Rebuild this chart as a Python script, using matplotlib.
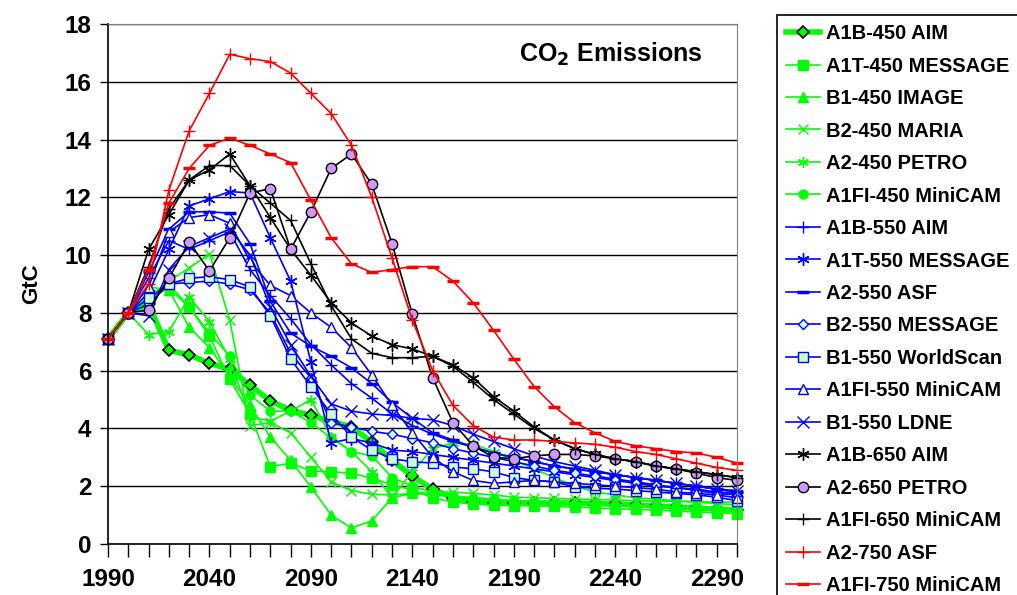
import numpy as np
import matplotlib
matplotlib.use('Agg')
import matplotlib.pyplot as plt

plt.rcParams['font.family'] = ['Liberation Sans', 'DejaVu Sans']
plt.rcParams['font.weight'] = 'bold'

years = list(range(1990, 2301, 10))

# green: 450 ppm
a1b_450_aim = [7.1, 8.0, 8.3, 6.7, 6.55, 6.25, 6.05, 5.5, 4.95, 4.63, 4.45, 4.25, 4.05, 3.53, 2.9, 2.35,
               1.9, 1.6, 1.47, 1.42, 1.42, 1.42, 1.42, 1.42, 1.4, 1.38, 1.35, 1.32, 1.28, 1.25, 1.2, 1.17]
a1t_450_message = [7.1, 8.0, 8.6, 9.0, 8.2, 7.2, 5.7, 4.5, 2.67, 2.8, 2.53, 2.5, 2.45, 2.28, 2.05, 1.87,
                   1.6, 1.45, 1.38, 1.35, 1.33, 1.32, 1.3, 1.28, 1.25, 1.22, 1.2, 1.17, 1.14, 1.11, 1.08, 1.05]
b1_450_image = [7.1, 8.0, 8.9, 8.8, 7.5, 6.8, 5.8, 4.8, 3.7, 2.9, 1.97, 1.0, 0.55, 0.8, 1.6, 1.75,
                1.7, 1.65, 1.6, 1.55, 1.5, 1.48, 1.45, 1.42, 1.4, 1.37, 1.34, 1.3, 1.27, 1.23, 1.2, 1.15]
b2_450_maria = [7.1, 8.0, 8.4, 9.1, 9.55, 10.05, 7.75, 4.1, 4.2, 3.85, 3.0, 2.15, 1.85, 1.72, 1.7, 1.75,
                1.8, 1.8, 1.75, 1.7, 1.62, 1.6, 1.58, 1.56, 1.54, 1.52, 1.5, 1.48, 1.47, 1.46, 1.45, 1.45]
a2_450_petro = [7.1, 8.0, 7.25, 7.35, 8.55, 7.7, 6.4, 4.4, 4.25, 4.6, 5.0, 3.7, 3.2, 2.5, 1.6, 2.5,
                3.3, 3.5, 3.45, 3.2, 2.9, 2.6, 2.3, 2.0, 1.8, 1.7, 1.6, 1.55, 1.5, 1.45, 1.4, 1.35]
a1fi_450_minicam = [7.1, 8.0, 8.5, 8.85, 8.2, 7.3, 6.5, 5.15, 4.6, 4.6, 4.2, 3.67, 3.2, 3.05, 2.3, 2.0,
                    1.8, 1.65, 1.6, 1.55, 1.5, 1.45, 1.42, 1.4, 1.38, 1.35, 1.33, 1.3, 1.28, 1.25, 1.22, 1.2]

# blue: 550 ppm
a1b_550_aim = [7.1, 8.0, 9.2, 10.5, 10.2, 10.5, 10.8, 9.5, 8.6, 7.8, 6.9, 6.2, 5.55, 5.05, 4.5, 4.1,
               3.8, 3.55, 3.35, 3.15, 3.0, 2.85, 2.7, 2.6, 2.5, 2.4, 2.3, 2.2, 2.1, 2.0, 1.9, 1.8]
a1t_550_message = [7.1, 8.0, 8.7, 10.2, 11.7, 11.95, 12.2, 12.15, 10.6, 9.1, 6.3, 3.5, 3.65, 3.5, 3.25, 3.2,
                   3.1, 3.0, 2.9, 2.8, 2.7, 2.6, 2.5, 2.4, 2.3, 2.2, 2.1, 2.0, 1.95, 1.9, 1.8, 1.75]
a2_550_asf = [7.1, 8.0, 9.4, 10.9, 11.5, 11.5, 11.45, 10.4, 8.4, 7.3, 6.85, 6.5, 6.1, 5.55, 4.9, 4.35,
              3.85, 3.6, 3.35, 3.15, 3.0, 2.85, 2.7, 2.6, 2.5, 2.4, 2.3, 2.2, 2.1, 2.0, 1.9, 1.8]
b2_550_message = [7.1, 8.0, 8.3, 9.0, 9.05, 9.1, 9.0, 8.8, 8.0, 6.6, 5.75, 4.2, 4.05, 3.9, 3.8, 3.65,
                  3.5, 3.3, 3.15, 3.0, 2.85, 2.7, 2.55, 2.45, 2.35, 2.25, 2.15, 2.05, 1.95, 1.85, 1.75, 1.7]
b1_550_worldscan = [7.1, 8.0, 8.5, 9.0, 9.2, 9.25, 9.15, 8.9, 7.9, 6.4, 5.45, 4.5, 3.7, 3.25, 2.95, 2.85,
                    2.8, 2.67, 2.6, 2.5, 2.3, 2.2, 2.15, 1.98, 1.93, 1.9, 1.85, 1.8, 1.75, 1.7, 1.62, 1.5]
a1fi_550_minicam = [7.1, 8.0, 8.9, 10.8, 11.3, 11.4, 11.1, 9.8, 8.95, 8.6, 8.0, 7.5, 6.8, 5.85, 4.8, 3.85,
                    3.0, 2.5, 2.2, 2.1, 2.15, 2.2, 2.15, 2.1, 2.05, 2.0, 1.95, 1.9, 1.8, 1.75, 1.7, 1.6]
b1_550_ldne = [7.1, 8.0, 7.9, 9.5, 10.3, 10.6, 10.9, 10.0, 8.2, 6.9, 5.8, 4.85, 4.6, 4.5, 4.45, 4.35,
               4.3, 4.1, 3.8, 3.55, 3.3, 3.05, 2.85, 2.7, 2.55, 2.4, 2.3, 2.2, 2.1, 2.0, 1.9, 1.85]

# black / purple: 650 ppm
a1b_650_aim = [7.1, 8.0, 10.2, 11.4, 12.6, 12.95, 13.5, 12.4, 11.3, 10.2, 9.3, 8.35, 7.65, 7.2, 6.9, 6.75,
               6.5, 6.2, 5.75, 5.1, 4.6, 4.05, 3.6, 3.3, 3.1, 2.95, 2.85, 2.7, 2.6, 2.5, 2.4, 2.3]
a2_650_petro = [7.1, 8.0, 8.1, 9.2, 10.45, 9.45, 10.6, 12.15, 12.3, 10.2, 11.5, 13.0, 13.5, 12.45, 10.4, 7.95,
                5.75, 4.2, 3.4, 3.0, 2.95, 3.05, 3.1, 3.1, 3.05, 2.95, 2.85, 2.7, 2.6, 2.45, 2.3, 2.2]
a1fi_650_minicam = [7.1, 8.0, 9.6, 11.6, 12.6, 13.1, 13.1, 12.4, 11.8, 11.2, 9.7, 8.25, 7.1, 6.6, 6.45, 6.45,
                    6.5, 6.15, 5.6, 5.0, 4.5, 4.0, 3.6, 3.3, 3.1, 2.95, 2.85, 2.7, 2.6, 2.5, 2.4, 2.3]

# red: 750 ppm
a2_750_asf = [7.1, 8.0, 9.0, 12.25, 14.3, 15.6, 16.95, 16.8, 16.7, 16.3, 15.6, 14.9, 13.8, 12.0, 9.9, 7.75,
              6.0, 4.8, 4.1, 3.7, 3.6, 3.6, 3.55, 3.5, 3.45, 3.35, 3.2, 3.1, 2.95, 2.8, 2.65, 2.55]
a1fi_750_minicam = [7.1, 8.0, 9.5, 11.8, 13.0, 13.8, 14.05, 13.8, 13.5, 13.2, 11.9, 10.6, 9.7, 9.4, 9.5, 9.6,
                    9.6, 9.1, 8.35, 7.4, 6.4, 5.45, 4.75, 4.2, 3.85, 3.55, 3.4, 3.3, 3.2, 3.15, 3.0, 2.8]

GREEN = '#00FF00'
BLUE = '#0000FF'
ast = (6, 2, 0)  # asterisk marker

series = [
    ('A1B-450 AIM', a1b_450_aim, dict(color=GREEN, lw=4, marker='D', ms=6.5, mfc=GREEN, mec='black', mew=1.2)),
    ('A1T-450 MESSAGE', a1t_450_message, dict(color=GREEN, marker='s', ms=6.5, mfc=GREEN, mec=GREEN)),
    ('B1-450 IMAGE', b1_450_image, dict(color=GREEN, marker='^', ms=7, mfc=GREEN, mec=GREEN)),
    ('B2-450 MARIA', b2_450_maria, dict(color=GREEN, marker='x', ms=7, mec=GREEN)),
    ('A2-450 PETRO', a2_450_petro, dict(color=GREEN, marker=ast, ms=8, mec=GREEN)),
    ('A1FI-450 MiniCAM', a1fi_450_minicam, dict(color=GREEN, marker='o', ms=6.5, mfc=GREEN, mec=GREEN)),
    ('A1B-550 AIM', a1b_550_aim, dict(color=BLUE, marker='+', ms=9, mec=BLUE)),
    ('A1T-550 MESSAGE', a1t_550_message, dict(color=BLUE, marker=ast, ms=9, mec=BLUE)),
    ('A2-550 ASF', a2_550_asf, dict(color=BLUE, marker='_', ms=8, mec=BLUE, mew=2.5)),
    ('B2-550 MESSAGE', b2_550_message, dict(color=BLUE, marker='D', ms=5.5, mfc='#CCFFFF', mec=BLUE)),
    ('B1-550 WorldScan', b1_550_worldscan, dict(color=BLUE, marker='s', ms=7, mfc='#CCFFCC', mec=BLUE)),
    ('A1FI-550 MiniCAM', a1fi_550_minicam, dict(color=BLUE, marker='^', ms=7.5, mfc='#FFFF99', mec=BLUE)),
    ('B1-550 LDNE', b1_550_ldne, dict(color=BLUE, marker='x', ms=8, mec=BLUE)),
    ('A1B-650 AIM', a1b_650_aim, dict(color='black', marker=ast, ms=9, mec='black')),
    ('A2-650 PETRO', a2_650_petro, dict(color='black', marker='o', ms=7.5, mfc='#CC99FF', mec='black')),
    ('A1FI-650 MiniCAM', a1fi_650_minicam, dict(color='black', marker='+', ms=9, mec='black')),
    ('A2-750 ASF', a2_750_asf, dict(color='red', marker='+', ms=9, mec='red')),
    ('A1FI-750 MiniCAM', a1fi_750_minicam, dict(color='red', marker='_', ms=8, mec='red', mew=2.5)),
]

fig = plt.figure(figsize=(10.17, 5.95), dpi=100)
ax = fig.add_axes([108/1017, 1-544/595, (737-108)/1017, (544-24)/595])

x = np.arange(len(years))
handles = []
for label, vals, style in series:
    st = dict(lw=1.2)
    st.update(style)
    h, = ax.plot(x, vals, label=label, clip_on=False, **st)
    handles.append(h)

ax.set_xlim(0, len(years) - 1)
ax.set_ylim(0, 18)
ax.set_yticks(range(0, 19, 2))
ax.set_xticks(x)
ax.set_xticklabels([str(y) if i % 5 == 0 else '' for i, y in enumerate(years)])
ax.tick_params(axis='x', direction='out', length=9, width=1, pad=8, labelsize=17.5)
ax.tick_params(axis='y', direction='out', length=6, width=1, pad=6, labelsize=17.5)
for t in ax.get_xticklabels() + ax.get_yticklabels():
    t.set_fontweight('bold')

ax.grid(axis='y', color='black', lw=1)
ax.set_axisbelow(True)
ax.spines['left'].set_color('black')
ax.spines['left'].set_linewidth(1.2)
ax.spines['bottom'].set_color('black')
ax.spines['bottom'].set_linewidth(1.2)
ax.spines['top'].set_color('#808080')
ax.spines['right'].set_color('#808080')

ax.set_ylabel('GtC', fontsize=16, fontweight='bold', labelpad=16)
ax.text(0.80, 0.968, 'CO$_\\mathbf{2}$ Emissions', transform=ax.transAxes, ha='center', va='top',
        fontsize=18, fontweight='bold')

leg = ax.legend(handles=handles, loc='upper left', bbox_to_anchor=(777/1017, 1-15/595),
                bbox_transform=fig.transFigure, borderaxespad=0,
                prop={'weight': 'bold', 'size': 14.5},
                handlelength=1.7, handletextpad=0.3, labelspacing=0.67, borderpad=0.45,
                fancybox=False, framealpha=1, edgecolor='black')
leg.get_frame().set_linewidth(1.2)

fig.savefig('out.png', dpi=100)
